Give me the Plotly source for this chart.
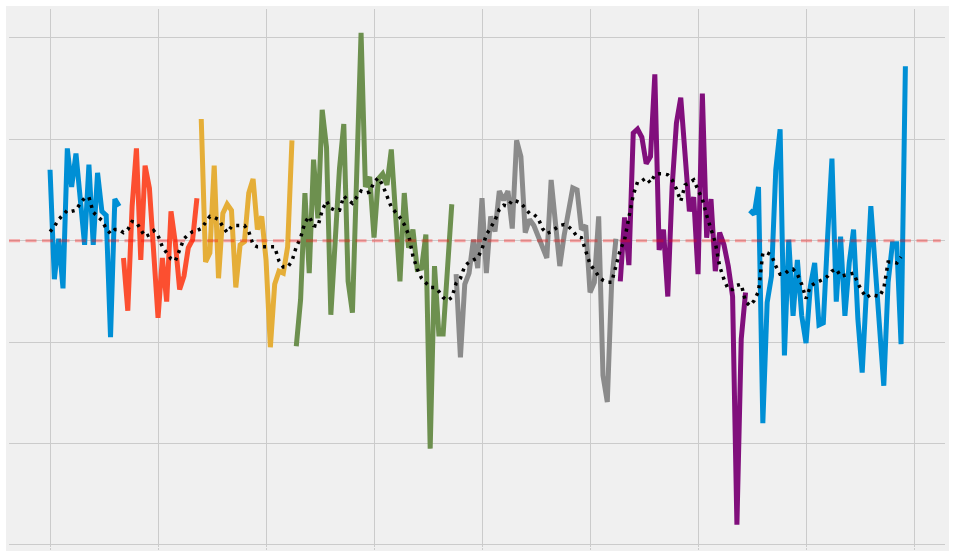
import plotly.graph_objects as go

# ---------- data ----------
# each coloured run is a consecutive block of the same index series
blue_a_start = 0
blue_a = [0.70, -0.38, 0.02, -0.47, 0.91, 0.53, 0.86, 0.42, -0.04, 0.75,
          -0.04, 0.67, 0.29, 0.25, -0.95, 0.41, 0.34]

red_start = 17
red = [-0.17, -0.69, 0.34, 0.91, -0.19, 0.74, 0.52, -0.12, -0.76, -0.17,
       -0.60, 0.29, -0.02, -0.48, -0.35, -0.07, 0.01, 0.42]

yellow_start = 35
yellow = [1.20, -0.21, -0.12, 0.74, -0.37, 0.27, 0.36, 0.30, -0.46, -0.04,
          -0.01, 0.47, 0.61, 0.11, 0.24, -0.19, -1.05, -0.43, -0.30, -0.32,
          -0.06, 0.99]

green_start = 57
green = [-1.04, -0.58, 0.47, -0.32, 0.80, 0.22, 1.29, 0.92, -0.73, 0.06,
         0.71, 1.15, -0.40, -0.71, 0.90, 2.05, 0.53, 0.63, 0.03, 0.61,
         0.66, 0.55, 0.90, 0.24, -0.40, 0.47, -0.07, 0.11, -0.28, -0.27,
         0.06, -2.05, -0.25, -0.92, -0.92, -0.28, 0.36]

gray_start = 94
gray = [-0.33, -1.15, -0.43, -0.32, 0.01, -0.27, 0.42, -0.32, 0.24, 0.09,
        0.49, 0.40, 0.49, 0.12, 0.99, 0.83, 0.08, 0.21, 0.15, 0.04,
        -0.07, -0.17, 0.60, 0.17, -0.25, 0.05, 0.32, 0.52, 0.50, 0.11,
        0.15, -0.51, -0.41, 0.24, -1.33, -1.59, -0.41, 0.02]

purple_start = 132
purple = [-0.40, 0.23, -0.24, 1.06, 1.10, 1.02, 0.76, 0.83, 1.64, -0.09,
          0.11, -0.55, 0.53, 1.16, 1.41, 0.79, 0.29, 0.43, -0.33, 1.45,
          0.03, 0.41, -0.30, 0.08, -0.04, -0.25, -0.55, -2.80, -0.97, -0.51]

blue_b_start = 162
blue_b = [0.30, 0.26, 0.53, -1.80, -0.61, -0.35, 0.70, 1.10, -1.13, 0.01,
          -0.74, -0.19, -0.74, -1.01, -0.45, -0.22, -0.83, -0.81, 0.04, 0.81,
          -0.60, 0.04, -0.74, -0.22, 0.11, -0.77, -1.30, -0.48, 0.34, -0.25,
          -0.84, -1.43, -0.41, -0.03, -0.03, -1.02, 1.72]

# smoothed trend (black dotted), one value per index from 0
trend = [0.09, 0.14, 0.21, 0.25, 0.30, 0.29, 0.30, 0.37, 0.42, 0.43,
         0.28, 0.24, 0.20, 0.12, 0.07, 0.11, 0.11, 0.08, 0.11, 0.19,
         0.18, 0.11, 0.04, 0.06, 0.10, 0.05, -0.06, -0.12, -0.18, -0.20,
         -0.08, 0.02, 0.06, 0.09, 0.10, 0.12, 0.18, 0.24, 0.23, 0.21,
         0.14, 0.08, 0.14, 0.15, 0.15, 0.15, 0.09, -0.04, -0.06, -0.06,
         -0.06, -0.06, -0.06, -0.20, -0.26, -0.26, -0.20, -0.06, 0.03, 0.18,
         0.24, 0.15, 0.14, 0.30, 0.39, 0.32, 0.30, 0.30, 0.44, 0.40,
         0.37, 0.43, 0.49, 0.47, 0.48, 0.58, 0.62, 0.55, 0.45, 0.33,
         0.28, 0.23, 0.16, 0.06, -0.15, -0.28, -0.37, -0.42, -0.46, -0.46,
         -0.50, -0.56, -0.59, -0.56, -0.42, -0.37, -0.25, -0.21, -0.19, -0.17,
         -0.08, 0.06, 0.13, 0.20, 0.31, 0.35, 0.34, 0.40, 0.39, 0.37,
         0.32, 0.27, 0.26, 0.22, 0.12, 0.07, 0.09, 0.12, 0.15, 0.16,
         0.14, 0.10, 0.04, 0.03, -0.10, -0.23, -0.29, -0.35, -0.39, -0.41,
         -0.41, -0.25, -0.09, 0.01, 0.21, 0.45, 0.58, 0.59, 0.62, 0.57,
         0.65, 0.66, 0.66, 0.65, 0.60, 0.51, 0.39, 0.55, 0.57, 0.60,
         0.50, 0.41, 0.25, 0.11, -0.02, -0.25, -0.38, -0.48, -0.48, -0.44,
         -0.43, -0.60, -0.64, -0.59, -0.50, -0.12, -0.12, -0.14, -0.25, -0.33,
         -0.33, -0.29, -0.28, -0.33, -0.43, -0.57, -0.45, -0.42, -0.40, -0.38,
         -0.35, -0.30, -0.28, -0.35, -0.34, -0.33, -0.32, -0.42, -0.50, -0.56,
         -0.53, -0.54, -0.55, -0.47, -0.21, -0.21, -0.22, -0.16]

x_ticks = [0, 25, 50, 75, 100, 125, 150, 175, 200]
y_ticks = [-3, -2, -1, 0, 1, 2]

# fivethirtyeight colour cycle
segments = [
    (blue_a_start, blue_a, '#008fd5'),
    (red_start, red, '#fc4f30'),
    (yellow_start, yellow, '#e5ae38'),
    (green_start, green, '#6d904f'),
    (gray_start, gray, '#8b8b8b'),
    (purple_start, purple, '#810f7c'),
    (blue_b_start, blue_b, '#008fd5'),
]

fig = go.Figure()

for start, vals, color in segments:
    fig.add_trace(go.Scatter(
        x=list(range(start, start + len(vals))), y=vals,
        mode='lines', line=dict(color=color, width=5),
        showlegend=False, hoverinfo='skip'
    ))

fig.add_trace(go.Scatter(
    x=list(range(len(trend))), y=trend,
    mode='lines', line=dict(color='black', width=3.5, dash='3px,5px'),
    showlegend=False, hoverinfo='skip'
))

# reference line at zero (sits on top of the series)
fig.add_shape(type='line', xref='x', yref='y', x0=-9.5, x1=206.2, y0=0, y1=0,
              line=dict(color='rgba(255,0,0,0.33)', width=3, dash='11px,5.5px'),
              layer='above')

# grey figure face with a thin white border round it
fig.add_shape(type='rect', xref='paper', yref='paper',
              x0=-3 / 936, x1=1 + 4 / 936, y0=-4 / 540, y1=1 + 3 / 540,
              fillcolor='#f0f0f0', line=dict(width=0, color='#f0f0f0'), layer='below')

fig.update_layout(
    width=954, height=558,
    margin=dict(l=9, r=9, t=9, b=9),
    paper_bgcolor='white',
    plot_bgcolor='#f0f0f0',
    xaxis=dict(range=[-9.5, 207.17], tickvals=x_ticks, showticklabels=False,
               showgrid=True, gridcolor='#cbcbcb', gridwidth=1.3, zeroline=False,
               showline=False, ticks='outside', ticklen=2, tickcolor='#cbcbcb'),
    yaxis=dict(range=[-3.02, 2.285], tickvals=y_ticks, showticklabels=False,
               showgrid=True, gridcolor='#cbcbcb', gridwidth=1.3, zeroline=False,
               showline=False, ticks=''),
)

# page body has a default 8px margin; drop it so the figure sits at the corner
fig.write_html("out.html", config={'displayModeBar': False},
               post_script="document.body.style.margin='0';")
